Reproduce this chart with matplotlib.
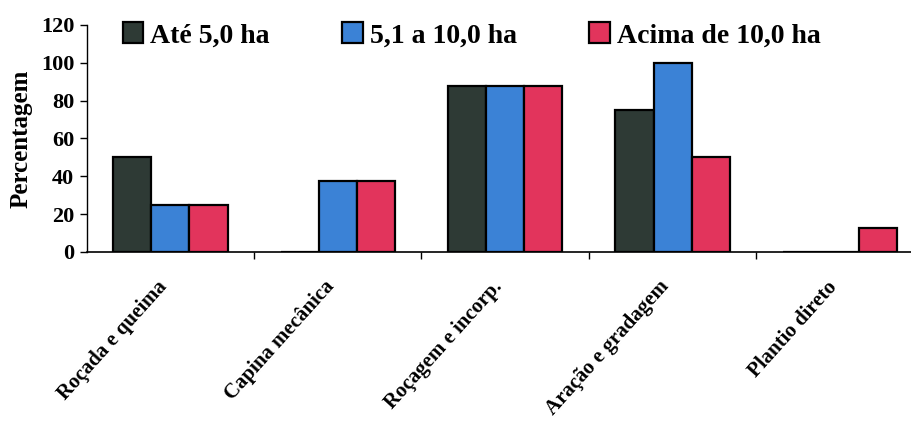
import numpy as np
import matplotlib
matplotlib.use("Agg")
import matplotlib.pyplot as plt
import matplotlib.transforms as mtransforms
from matplotlib.ticker import FixedLocator

plt.rcParams['font.family'] = ['Liberation Serif', 'DejaVu Serif']
plt.rcParams['font.weight'] = 'bold'
plt.rcParams['axes.labelweight'] = 'bold'

# Weed-control practice by farm size (% of farmers)
praticas = ["Roçada e queima", "Capina mecânica", "Roçagem e incorp.",
            "Aração e gradagem", "Plantio direto"]
ate_5 = [50, 0, 87.5, 75, 0]
de_5_a_10 = [25, 37.5, 87.5, 100, 0]
acima_10 = [25, 37.5, 87.5, 50, 12.5]

series = [
    ("Até 5,0 ha", ate_5, "#2e3a35"),
    ("5,1 a 10,0 ha", de_5_a_10, "#3b82d6"),
    ("Acima de 10,0 ha", acima_10, "#e2345c"),
]

fig = plt.figure(figsize=(9.12, 4.22), dpi=100)
ax = fig.add_axes([0.095, 0.403, 0.905, 0.538])

x = np.arange(len(praticas))
w = 0.228
for i, (label, vals, color) in enumerate(series):
    ax.bar(x + (i - 1) * w, vals, width=w, color=color, edgecolor="black",
           linewidth=1.6, label=label)

ax.set_xlim(-0.5, 4.43)
ax.set_ylim(0, 120)
ax.set_yticks(range(0, 121, 20))
ax.tick_params(axis='y', labelsize=16, length=5, width=1, pad=4)

ax.set_xticks(x)
ax.set_xticklabels(praticas, rotation=48, ha='right', va='top',
                   rotation_mode='anchor', fontsize=15)
ax.tick_params(axis='x', length=0, pad=18)
# nudge the slanted labels a bit to the left
shift = mtransforms.ScaledTranslation(-14 / 100, 0, fig.dpi_scale_trans)
for lbl in ax.get_xticklabels():
    lbl.set_transform(lbl.get_transform() + shift)
ax.xaxis.set_minor_locator(FixedLocator(x[:-1] + 0.5))
ax.tick_params(axis='x', which='minor', length=5, width=1)

for side in ("top", "right"):
    ax.spines[side].set_visible(False)
ax.spines["left"].set_linewidth(1)
ax.spines["bottom"].set_linewidth(1.2)

ax.set_ylabel("Percentagem", fontsize=18, labelpad=6)

ax.legend(loc="upper left", bbox_to_anchor=(0.03, 1.06), ncol=3,
          frameon=False, handlelength=0.75, handleheight=0.75,
          handletextpad=0.25, columnspacing=2.6, borderaxespad=0,
          prop={'family': 'Liberation Serif', 'weight': 'bold', 'size': 20})

fig.savefig("out.png", dpi=100)
